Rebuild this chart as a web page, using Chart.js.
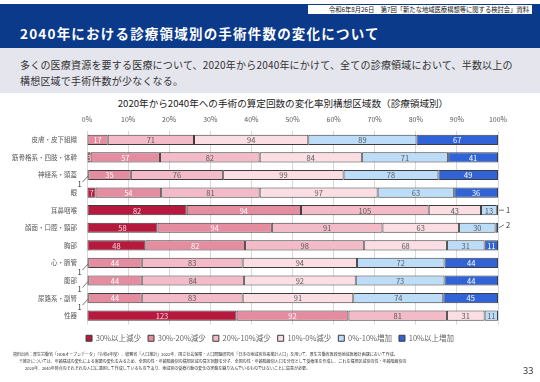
<!DOCTYPE html>
<html><head><meta charset="utf-8">
<script src="https://cdn.jsdelivr.net/npm/chart.js@4.4.1/dist/chart.umd.min.js"></script>
<style>
html,body{margin:0;padding:0;background:#fff;}
body{width:540px;height:382px;position:relative;overflow:hidden;font-family:"Noto Sans CJK JP","Noto Sans",sans-serif;}
#hdr{position:absolute;left:0;top:4px;width:540px;height:44px;background:#0c3a8b;}
#date{position:absolute;left:308px;top:5px;width:224px;height:9px;background:#fff;font-size:6.3px;line-height:9px;color:#111;text-align:right;white-space:nowrap;box-sizing:border-box;padding-right:3px;}
#title{position:absolute;left:20px;top:23px;color:#fff;font-size:13.5px;font-weight:bold;letter-spacing:1.2px;line-height:20px;white-space:nowrap;}
#band{position:absolute;left:0;top:48px;width:540px;height:45px;background:#e5e5ed;}
#lead{position:absolute;left:20px;top:57px;font-size:10px;line-height:16px;color:#333;letter-spacing:0.2px;white-space:nowrap;}
#ctitle{position:absolute;left:0;top:97px;width:566px;text-align:center;font-size:9.6px;line-height:12px;color:#222;white-space:nowrap;}
#chartbox{position:absolute;left:0;top:110px;width:540px;height:242px;}
.fn{position:absolute;font-size:4px;line-height:6px;color:#333;white-space:nowrap;}
#page{position:absolute;left:523px;top:365px;font-size:9px;line-height:11px;color:#333;font-family:"Noto Sans",sans-serif;}
</style></head>
<body>
<div id="hdr"></div>
<div id="date">令和6年8月26日　第7回「新たな地域医療構想等に関する検討会」資料</div>
<div id="title">2040年における診療領域別の手術件数の変化について</div>
<div id="band"></div>
<div id="lead">多くの医療資源を要する医療について、2020年から2040年にかけて、全ての診療領域において、半数以上の<br>構想区域で手術件数が少なくなる。</div>
<div id="ctitle">2020年から2040年への手術の算定回数の変化率別構想区域数（診療領域別）</div>
<div id="chartbox"><canvas id="c" width="540" height="242"></canvas></div>
<div class="fn" style="left:13px;top:351px;">資料出所：厚生労働省「NDBオープンデータ」（令和4年度）、総務省「人口推計」2022年、国立社会保障・人口問題研究所「日本の地域別将来推計人口」を用いて、厚生労働省医政局地域医療計画課において作成。</div>
<div class="fn" style="left:19px;top:358px;">※推計については、年齢構成の変化による需要の変化をみるため、全国の性・年齢階級別の構想区域の算定回数を分子、全国の性・年齢階級別人口を分母として受療率を作成し、これを構想区域別の性・年齢階級別の</div>
<div class="fn" style="left:25px;top:365px;">2020年、2040年時点のそれぞれの人口に適用して作成しているものであり、地域別の受療行動の変化の実態を織り込んでいるものではないことに留意が必要。</div>
<div id="page">33</div>
<script>
const categories = ['皮膚・皮下組織','筋骨格系・四肢・体幹','神経系・頭蓋','眼','耳鼻咽喉','顔面・口腔・頸部','胸部','心・脈管','腹部','尿路系・副腎','性器'];
const seriesNames = ['30%以上減少','30%-20%減少','20%-10%減少','10%-0%減少','0%-10%増加','10%以上増加'];
const dec30plus  = [0, 3, 1, 7, 82, 58, 48, 1, 1, 1, 123];
const dec30to20  = [17, 57, 35, 54, 94, 94, 82, 44, 44, 44, 92];
const dec20to10  = [71, 82, 76, 81, 105, 91, 98, 83, 84, 83, 81];
const dec10to0   = [94, 84, 99, 97, 43, 63, 68, 94, 92, 91, 31];
const inc0to10   = [89, 71, 78, 63, 13, 30, 31, 72, 73, 74, 11];
const inc10plus  = [67, 41, 49, 36, 1, 2, 11, 44, 44, 45, 0];
const tickLabels = ['0%','10%','20%','30%','40%','50%','60%','70%','80%','90%','100%'];

const seriesCounts = [dec30plus, dec30to20, dec20to10, dec10to0, inc0to10, inc10plus];
const fillColors = ['#b5193e','#e48ca0','#f3bac8','#fbdde4','#bddcf7','#3163d6'];
const labelColors = ['#f8dbe2','#ffffff','#5a5a5a','#5a5a5a','#555a66','#ffffff'];
const rowTotals = categories.map((_, i) => seriesCounts.reduce((s, arr) => s + arr[i], 0));

const FONT = '"Noto Sans CJK JP","Noto Sans",sans-serif';

const datasets = seriesCounts.map((arr, k) => ({
  label: seriesNames[k],
  counts: arr,
  data: arr.map((v, i) => v / rowTotals[i] * 100),
  backgroundColor: fillColors[k],
  borderColor: '#3d3d3d',
  borderWidth: 1,
  borderSkipped: false,
  barPercentage: 0.58,
  categoryPercentage: 1
}));

const segLabels = {
  id: 'segLabels',
  afterDatasetsDraw(chart) {
    const ctx = chart.ctx;
    ctx.save();
    ctx.font = '7.5px ' + FONT;
    ctx.textBaseline = 'middle';
    const n = chart.data.datasets.length;
    let rightCount = 0;
    chart.data.datasets.forEach((ds, di) => {
      const meta = chart.getDatasetMeta(di);
      meta.data.forEach((bar, i) => {
        const v = ds.counts[i];
        if (!v) return;
        const p = bar.getProps(['x', 'base', 'y'], true);
        if (di === 0 && v <= 2) {
          ctx.strokeStyle = '#555';
          ctx.lineWidth = 0.8;
          ctx.beginPath();
          ctx.moveTo(p.base - 5, p.y + 7);
          ctx.lineTo(p.base + 0.5, p.y + 1);
          ctx.stroke();
          ctx.fillStyle = '#333';
          ctx.textAlign = 'center';
          ctx.fillText(String(v), p.base - 8, p.y + 9);
        } else if (di === n - 1 && v <= 2) {
          const dy = rightCount === 0 ? 0 : -3;
          rightCount++;
          ctx.strokeStyle = '#555';
          ctx.lineWidth = 0.8;
          ctx.beginPath();
          ctx.moveTo(p.x + 1, p.y);
          ctx.lineTo(p.x + 6, p.y + dy);
          ctx.stroke();
          ctx.fillStyle = '#333';
          ctx.textAlign = 'left';
          ctx.fillText(String(v), p.x + 8, p.y + dy);
        } else {
          ctx.fillStyle = labelColors[di];
          ctx.textAlign = 'center';
          ctx.fillText(String(v), (p.x + p.base) / 2, p.y + 0.5);
        }
      });
    });
    ctx.restore();
  }
};

new Chart(document.getElementById('c'), {
  type: 'bar',
  data: { labels: categories, datasets },
  options: {
    indexAxis: 'y',
    responsive: false,
    animation: false,
    layout: { padding: 0 },
    scales: {
      x: {
        position: 'top', stacked: true, min: 0, max: 100,
        ticks: { stepSize: 10, padding: 7, color: '#595959', font: { size: 7, family: FONT },
          callback: (v, idx) => tickLabels[idx] },
        grid: { color: '#d9d9d9', lineWidth: 1, drawTicks: false },
        border: { display: false },
        afterFit(s) { s.height = 21; }
      },
      x2: {
        type: 'linear', position: 'bottom', display: true,
        ticks: { display: false }, grid: { display: false }, border: { display: false },
        afterFit(s) { s.height = 3; }
      },
      y: {
        stacked: true,
        ticks: { padding: 10, color: '#595959', font: { size: 6.5, family: FONT } },
        grid: { display: false, drawTicks: false },
        border: { display: false },
        afterFit(s) { s.width = 87; }
      },
      y2: {
        type: 'category', position: 'right', display: true,
        ticks: { display: false }, grid: { display: false }, border: { display: false },
        afterFit(s) { s.width = 42; }
      }
    },
    plugins: {
      legend: {
        position: 'bottom',
        labels: { boxWidth: 6, boxHeight: 6, padding: 7, color: '#666', font: { size: 7.5, family: FONT } }
      },
      title: { display: false },
      tooltip: { enabled: false }
    }
  },
  plugins: [segLabels]
});
</script>
</body></html>
